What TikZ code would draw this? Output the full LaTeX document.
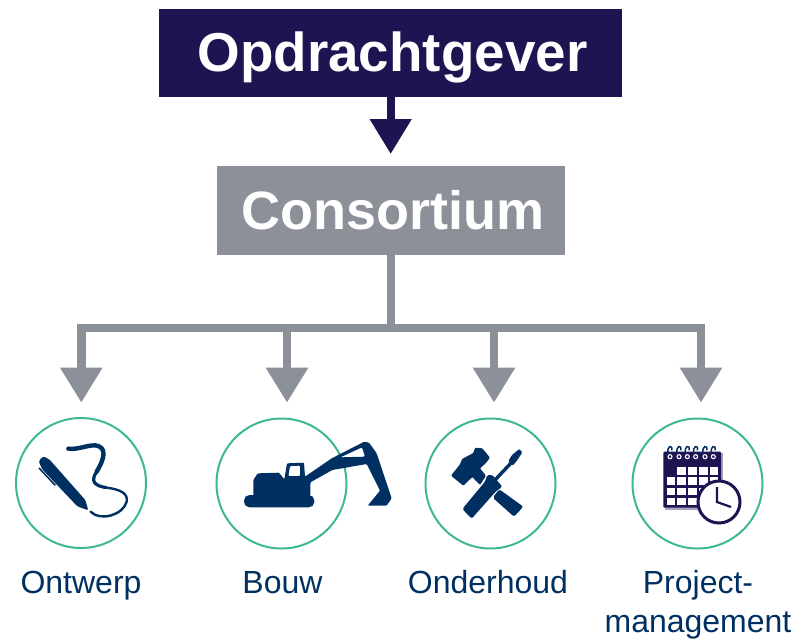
\documentclass[tikz,border=0pt]{standalone}
\usepackage{fontspec}
\setmainfont{Liberation Sans}
\usetikzlibrary{arrows.meta}
\definecolor{navy}{HTML}{1E1452}
\definecolor{greybox}{HTML}{8C9099}
\definecolor{iconblue}{HTML}{003062}
\definecolor{ringgreen}{HTML}{3DB98C}
\definecolor{shadowcal}{HTML}{A7A5BD}
\tikzset{
  titlebox/.style={fill=#1,inner sep=0pt,anchor=north west},
  titletext/.style={text=white,font=\bfseries\fontsize{#1}{60}\selectfont,inner sep=0pt,anchor=base},
  ring/.style={circle,draw=ringgreen,line width=2pt,minimum size=130pt,inner sep=0pt},
  lbl/.style={text=iconblue,font=\fontsize{32}{39}\selectfont,anchor=base,align=center,inner sep=0pt},
  navyarrow/.style={navy,line width=8pt,-{Triangle[length=35pt,width=40pt]}},
  greyline/.style={greybox,line width=8.7pt},
  greyarrow/.style={greyline,-{Triangle[length=35pt,width=40pt]}},
  zoomone/.style={x=0.33333pt,y=-0.33333pt,shift={(#1)}}
}
\begin{document}
\begin{tikzpicture}[x=1pt,y=-1pt]
\useasboundingbox (0,0) rectangle (796,641);
% boxes
\node[titlebox=navy,minimum width=463pt,minimum height=88pt] (opd) at (159,9) {};
\node[titletext=54.8] (opdtxt) at (392.5,71) {Opdrachtgever};
\node[titlebox=greybox,minimum width=348pt,minimum height=89pt] (cons) at (217,166) {};
\node[titletext=54] (constxt) at (393,229) {Consortium};
% circles
\node[ring] (c1) at (81,483) {};
\node[ring] (c2) at (281.5,483.5) {};
\node[ring] (c3) at (490.5,483.5) {};
\node[ring] (c4) at (697.5,483.5) {};
% connectors
\coordinate (top) at (390.7,154);
\coordinate (bus) at (391,328);
\coordinate (a1) at (81.3,402.7);
\coordinate (a2) at (287,402.7);
\coordinate (a3) at (494,402.7);
\coordinate (a4) at (701,402.7);
\draw[navyarrow] (opd.south -| top) -- (top);
\draw[greyline] (cons.south -| bus) -- (bus);
\draw[greyarrow] (bus) -| (a1);
\draw[greyarrow] (bus) -| (a4);
\draw[greyarrow] (bus -| a2) -- (a2);
\draw[greyarrow] (bus -| a3) -- (a3);
% pen
\begin{scope}[zoomone={0pt,-400pt}]
  \fill[iconblue,rounded corners=1.5pt] (116,183) -- (130,169) -- (148,178) -- (256,300) -- (265,331) -- (232,319) -- (126,207) -- cycle;
  \draw[iconblue,line width=1.6pt] (117,204) -- (166,256);
  \draw[iconblue,line width=4.4pt,line cap=round] (205,146) .. controls (240,150) and (270,130) .. (295,138) .. controls (325,150) and (305,190) .. (290,215);
  \draw[iconblue,line width=3.2pt] (290,215) .. controls (270,245) and (285,258) .. (320,263);
  \draw[iconblue,line width=2.4pt,line cap=round] (320,263) .. controls (360,268) and (385,280) .. (380,305) .. controls (370,345) and (300,365) .. (272,335);
\end{scope}
% excavator
\begin{scope}[zoomone={235pt,-430pt}]
  \fill[iconblue,rounded corners=5.5pt] (27,195) rectangle (238,232);
  \fill[iconblue,even odd rule,rounded corners=1pt]
    (55,197) -- (55,150) -- (68,130) -- (132,128) -- (148,148) -- (156,100) -- (207,98) -- (210,140) -- (290,85) -- (388,35) -- (402,38) -- (425,70) -- (470,205) -- (455,227) -- (398,227) -- (435,182) -- (395,102) -- (292,120) -- (226,157) -- (226,197) -- cycle
    (165,108) -- (195,107) -- (195,138) -- (160,138) -- cycle
    (316,82) -- (381,52) -- (390,80) -- cycle;
\end{scope}
% hammer and screwdriver
\begin{scope}[zoomone={440pt,-435pt}]
  \fill[iconblue,rounded corners=1pt] (33,122) -- (60,88) -- (66,72) -- (100,54) -- (105,38) -- (127,40) -- (150,68) -- (137,85) -- (120,100) -- (138,122) -- (120,150) -- (97,126) -- (70,152) -- cycle;
  \fill[iconblue,rounded corners=2pt] (178,163) -- (250,215) -- (222,245) -- (158,188) -- cycle;
  \fill[iconblue,rounded corners=1.5pt] (67,222) -- (135,140) -- (142,120) -- (157,120) -- (187,155) -- (167,170) -- (95,251) -- cycle;
  \draw[iconblue,line width=3.4pt] (165,135) -- (215,82);
  \fill[iconblue,rounded corners=1pt] (205,78) -- (216,60) -- (238,42) -- (247,52) -- (230,78) -- (218,92) -- cycle;
\end{scope}
% calendar
\begin{scope}[zoomone={655pt,-435pt}]
  \fill[shadowcal] (30,55) rectangle (204,224);
  \fill[navy,rounded corners=1pt] (25,50) rectangle (198,218);
  \foreach \cx in {67,100,133,165} \fill[white] (\cx,97) rectangle ++(25,23);
  \foreach \ry in {127,158,188} \foreach \cx in {35,67,100,133,165} \fill[white] (\cx,\ry) rectangle ++(25,23);
  \foreach \cx in {45,72,97,122,150,175} {
    \draw[iconblue,line width=1.5pt] (\cx-5,58) .. controls (\cx-12,30) and (\cx+10,28) .. (\cx+5,46);
    \draw[white,line width=1.1pt] (\cx,65) circle (6);
  }
  \fill[white] (192,201) circle (64);
  \draw[navy,line width=3pt] (192,201) circle (63);
  \draw[navy,line width=2.2pt] (186,156) -- (186,201) -- (228,216);
\end{scope}
% labels
\node[lbl] (t1) at (81,593) {Ontwerp};
\node[lbl] (t2) at (282.5,593) {Bouw};
\node[lbl] (t3) at (488,593) {Onderhoud};
\node[lbl] (t4a) at (698,593) {Project-};
\node[lbl] (t4b) at (698,632) {management};
\end{tikzpicture}
\end{document}
